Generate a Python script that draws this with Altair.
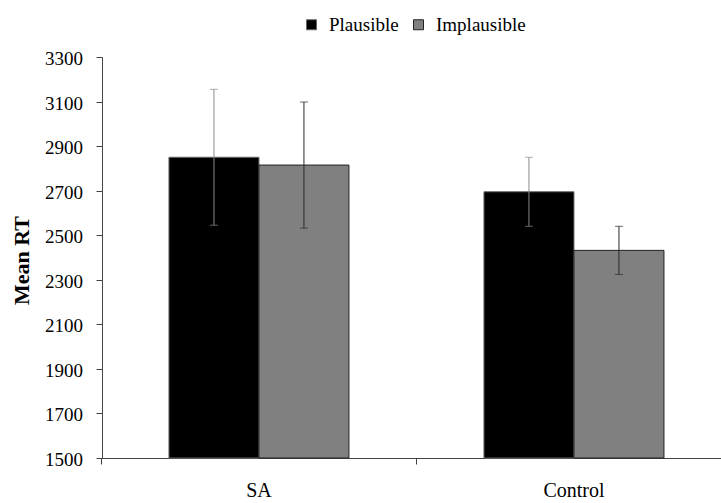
import altair as alt
import pandas as pd

groups = ["SA", "Control"]
conditions = ["Plausible", "Implausible"]
plausible_mean = [2850, 2695]
implausible_mean = [2815, 2432]
plausible_err = [305, 155]
implausible_err = [283, 108]
y_ticks = [1500, 1700, 1900, 2100, 2300, 2500, 2700, 2900, 3100, 3300]

rows = []
for i, g in enumerate(groups):
    rows.append(dict(group=g, cond="Plausible", mean=plausible_mean[i], err=plausible_err[i]))
    rows.append(dict(group=g, cond="Implausible", mean=implausible_mean[i], err=implausible_err[i]))
df = pd.DataFrame(rows)
df["lo"] = df["mean"] - df["err"]
df["hi"] = df["mean"] + df["err"]
tick_df = pd.DataFrame({"v": y_ticks})
group_df = pd.DataFrame({"group": groups})

FONT = "Liberation Serif"

xaxis = alt.Axis(
    title=None, labels=False, tickOffset=-157.5,
)
yaxis = alt.Axis(
    values=y_ticks, labels=False, grid=False, title="Mean RT", titleFontSize=22,
    titleFontWeight="bold", titleAngle=270, titleX=-81, titleY=203,
    titleAlign="center", titleBaseline="middle", titleFont=FONT,
)
x = alt.X(
    "group:N",
    sort=groups,
    scale=alt.Scale(paddingInner=0.4286, paddingOuter=0.1968, align=0.54),
    axis=xaxis,
)
xoff = alt.XOffset("cond:N", sort=conditions, scale=alt.Scale(paddingInner=0, paddingOuter=0))
yscale = alt.Scale(domain=[1500, 3300], zero=False, nice=False)

base = alt.Chart(df)

bars = base.mark_bar(strokeWidth=1).encode(
    x=x,
    xOffset=xoff,
    y=alt.Y("mean:Q", scale=yscale, axis=yaxis),
    y2=alt.datum(1500),
    fill=alt.Fill(
        "cond:N",
        sort=conditions,
        scale=alt.Scale(domain=conditions, range=["#000000", "#808080"]),
        legend=alt.Legend(
            title=None, orient="none", legendX=200, legendY=-42, direction="horizontal",
            symbolType="square", symbolSize=100, symbolStrokeColor="#222", symbolStrokeWidth=1,
            labelFontSize=19, labelOffset=8, columnPadding=10, labelFont=FONT,
        ),
    ),
    stroke=alt.Stroke(
        "cond:N", sort=conditions,
        scale=alt.Scale(domain=conditions, range=["#666666", "#222222"]), legend=None,
    ),
)

err_color = alt.Color(
    "cond:N", sort=conditions,
    scale=alt.Scale(domain=conditions, range=["#8a8a8a", "#2a2a2a"]), legend=None,
)

rules = base.mark_rule(strokeWidth=1).encode(
    x=x, xOffset=xoff,
    y=alt.Y("lo:Q", scale=yscale, axis=yaxis), y2="hi:Q",
    color=err_color,
)
cap_lo = base.mark_tick(orient="horizontal", size=8, thickness=1).encode(
    x=x, xOffset=xoff, y=alt.Y("lo:Q", scale=yscale, axis=yaxis), color=err_color,
)
cap_hi = base.mark_tick(orient="horizontal", size=8, thickness=1).encode(
    x=x, xOffset=xoff, y=alt.Y("hi:Q", scale=yscale, axis=yaxis), color=err_color,
)

y_labels = alt.Chart(tick_df).mark_text(
    font=FONT, fontSize=19, align="right", baseline="middle", color="#000", dy=2
).encode(
    x=alt.value(-19),
    y=alt.Y("v:Q", scale=yscale, axis=yaxis),
    text=alt.Text("v:Q", format="d"),
)
x_labels = alt.Chart(group_df).mark_text(
    font=FONT, fontSize=20, align="center", baseline="top", color="#000"
).encode(
    x=x,
    y=alt.value(424),
    text="group:N",
)

chart = (
    alt.layer(bars, rules, cap_lo, cap_hi, y_labels, x_labels)
    .resolve_scale(color="independent", stroke="independent", fill="independent")
    .properties(
        width=619, height=401,
        autosize=alt.AutoSizeParams(type="none"),
        padding={"left": 102, "top": 57, "right": 0, "bottom": 45},
        background="white",
    )
    .configure_view(stroke=None)
    .configure_axis(titleColor="#000", tickColor="#444", domainColor="#444", tickSize=6)
    .configure_legend(labelColor="#000")
)

chart.save("out.html", embed_options={"renderer": "svg", "actions": False})
